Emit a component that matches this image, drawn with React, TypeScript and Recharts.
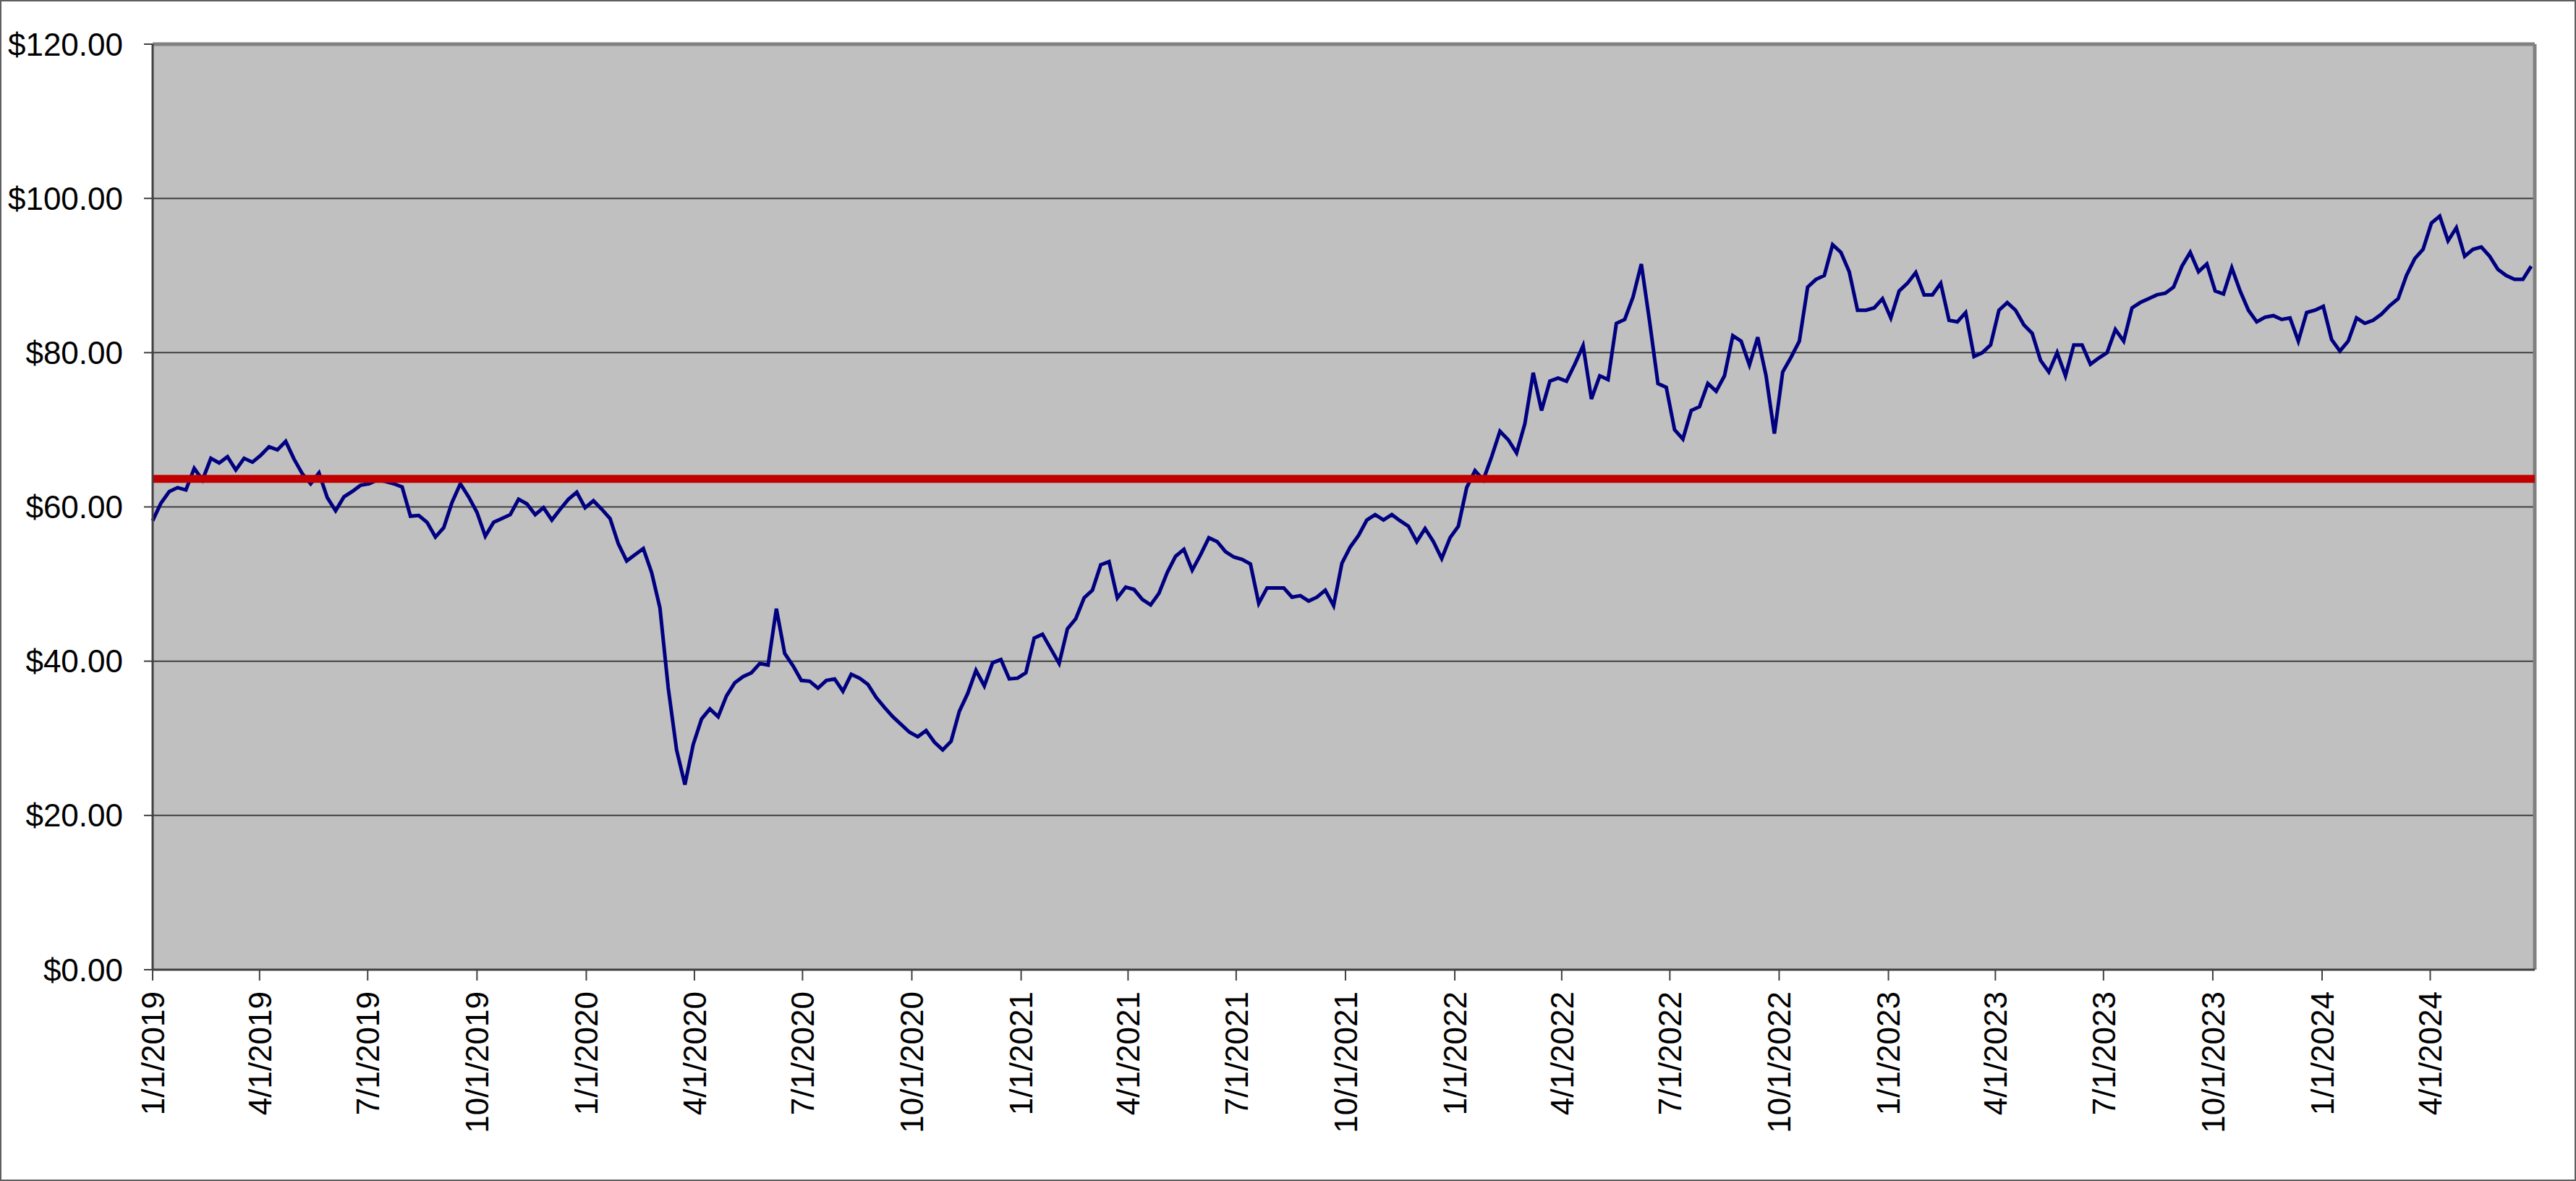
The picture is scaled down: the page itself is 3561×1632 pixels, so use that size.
import React from 'react';
import { LineChart, Line, XAxis, YAxis, CartesianGrid, ReferenceLine } from 'recharts';

// weekly closing prices, starting 1/1/2019
const weeklyClose = [
  58.2, 60.5, 62, 62.5, 62.2, 65, 63.5, 66.3, 65.7, 66.5,
  64.8, 66.3, 65.8, 66.7, 67.8, 67.4, 68.5, 66.2, 64.3, 63,
  64.4, 61.2, 59.5, 61.3, 62, 62.8, 63, 63.5, 63.3, 63,
  62.6, 58.8, 58.9, 58, 56.1, 57.3, 60.6, 63, 61.3, 59.3,
  56.2, 58, 58.5, 59, 61, 60.4, 59, 59.9, 58.3, 59.7,
  61, 61.9, 59.9, 60.8, 59.7, 58.5, 55.2, 53, 53.8, 54.6,
  51.5, 46.9, 36.5, 28.5, 24, 29.2, 32.5, 33.8, 32.8, 35.5,
  37.2, 38, 38.5, 39.7, 39.5, 46.8, 41, 39.4, 37.5, 37.4,
  36.5, 37.5, 37.7, 36.1, 38.3, 37.8, 37, 35.3, 34, 32.8,
  31.8, 30.8, 30.2, 31, 29.5, 28.5, 29.6, 33.5, 35.8, 38.8,
  36.8, 39.8, 40.2, 37.7, 37.8, 38.5, 43, 43.5, 41.6, 39.7,
  44.2, 45.5, 48.2, 49.2, 52.5, 52.9, 48.2, 49.6, 49.3, 48,
  47.3, 48.8, 51.5, 53.6, 54.5, 51.8, 53.8, 56, 55.5, 54.2,
  53.5, 53.2, 52.6, 47.5, 49.5, 49.5, 49.5, 48.3, 48.5, 47.8,
  48.3, 49.2, 47.2, 52.7, 54.8, 56.3, 58.3, 59, 58.3, 59,
  58.2, 57.5, 55.5, 57.2, 55.5, 53.3, 56, 57.5, 62.5, 64.7,
  63.5, 66.5, 69.8, 68.7, 67, 70.8, 77.4, 72.5, 76.3, 76.7,
  76.3, 78.5, 80.9, 74, 77, 76.5, 83.8, 84.3, 87.2, 91.5,
  84, 76, 75.5, 70, 68.8, 72.5, 73, 76, 75, 77,
  82.2, 81.5, 78.4, 82, 77, 69.5, 77.5, 79.4, 81.5, 88.5,
  89.5, 90, 94, 93, 90.5, 85.5, 85.5, 85.8, 87, 84.5,
  88, 89, 90.4, 87.5, 87.5, 89, 84.2, 84, 85.2, 79.5,
  80, 81, 85.5, 86.5, 85.5, 83.6, 82.5, 79, 77.5, 80,
  77, 81, 81, 78.5, 79.3, 80, 83, 81.5, 85.8, 86.5,
  87, 87.5, 87.7, 88.5, 91.2, 93, 90.5, 91.5, 88, 87.6,
  91, 88, 85.5, 84, 84.6, 84.8, 84.3, 84.5, 81.5, 85.2,
  85.5, 86, 81.7, 80.2, 81.5, 84.5, 83.8, 84.2, 85, 86.1,
  87, 90, 92.2, 93.4, 96.8, 97.7, 94.5, 96.2, 92.5, 93.4,
  93.7, 92.5, 90.8, 90, 89.5, 89.5, 91.2,
];

const seriesStart = '1/1/2019';
const seriesEnd = '6/28/2024';

const xTickLabels = [
  '1/1/2019', '4/1/2019', '7/1/2019', '10/1/2019',
  '1/1/2020', '4/1/2020', '7/1/2020', '10/1/2020',
  '1/1/2021', '4/1/2021', '7/1/2021', '10/1/2021',
  '1/1/2022', '4/1/2022', '7/1/2022', '10/1/2022',
  '1/1/2023', '4/1/2023', '7/1/2023', '10/1/2023',
  '1/1/2024', '4/1/2024',
];

const yTicks = [0, 20, 40, 60, 80, 100, 120];
const averagePrice = 63.64;

const DAY = 24 * 60 * 60 * 1000;
const FONT = '"Liberation Sans", Arial, sans-serif';

const toTs = (s: string) => {
  const [m, d, y] = s.split('/').map(Number);
  return Date.UTC(y, m - 1, d);
};

const startTs = toTs(seriesStart);
const endTs = toTs(seriesEnd);
const xTicks = xTickLabels.map(toTs);

const chartData = weeklyClose.map((price, i) => ({ t: startTs + i * 7 * DAY, price }));

const fmtDate = (ts: number) => {
  const d = new Date(ts);
  return `${d.getUTCMonth() + 1}/${d.getUTCDate()}/${d.getUTCFullYear()}`;
};

const DateTick = (props: any) => {
  const { x, y, payload } = props;
  return (
    <text
      x={x}
      y={y}
      transform={`rotate(-90, ${x}, ${y})`}
      textAnchor="end"
      dy="0.36em"
      fill="#000"
      fontSize={44}
      fontFamily={FONT}
    >
      {fmtDate(payload.value)}
    </text>
  );
};

export default function App() {
  return (
    <div style={{ position: 'relative', width: 3561, height: 1632, background: '#fff' }}>
      <style>{'body{margin:0}'}</style>
      <LineChart
        width={3561}
        height={1632}
        data={chartData}
        margin={{ top: 61, right: 57, bottom: 0, left: 11 }}
      >
        <CartesianGrid
          vertical={false}
          fill="#C0C0C0"
          fillOpacity={1}
          stroke="#404040"
          strokeWidth={2}
        />
        <XAxis
          dataKey="t"
          type="number"
          scale="time"
          domain={[startTs, endTs]}
          ticks={xTicks}
          interval={0}
          height={292}
          tickSize={15}
          tickMargin={15}
          tick={<DateTick />}
          axisLine={{ stroke: '#404040', strokeWidth: 3 }}
          tickLine={{ stroke: '#404040', strokeWidth: 2 }}
        />
        <YAxis
          type="number"
          domain={[0, 120]}
          ticks={yTicks}
          interval={0}
          width={200}
          tickSize={12}
          tickMargin={29}
          tickFormatter={(v: number) => `$${v.toFixed(2)}`}
          tick={{ fill: '#000', fontSize: 44, fontFamily: FONT }}
          axisLine={{ stroke: '#404040', strokeWidth: 3 }}
          tickLine={{ stroke: '#404040', strokeWidth: 2 }}
        />
        <ReferenceLine y={120} stroke="#808080" strokeWidth={5} />
        <ReferenceLine x={endTs} stroke="#808080" strokeWidth={5} />
        <Line
          type="linear"
          dataKey="price"
          stroke="#000080"
          strokeWidth={5}
          dot={false}
          isAnimationActive={false}
        />
        <ReferenceLine y={averagePrice} stroke="#C00000" strokeWidth={11} />
      </LineChart>
      <div
        style={{
          position: 'absolute',
          inset: 0,
          border: '2px solid #5f5f5f',
          pointerEvents: 'none',
        }}
      />
    </div>
  );
}
